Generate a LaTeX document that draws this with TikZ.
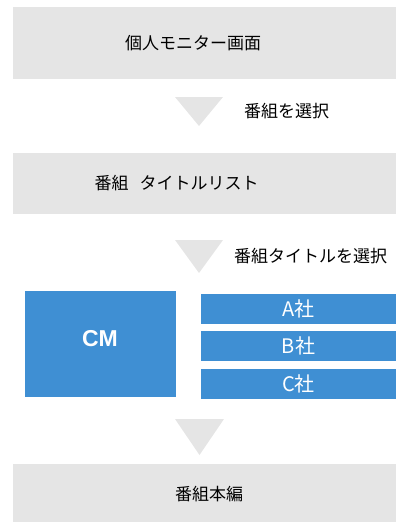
\documentclass[tikz,border=0pt]{standalone}
\usepackage{fontspec}
\setmainfont{Noto Sans CJK JP}
\newfontfamily\cmfont{Liberation Sans}
\definecolor{boxgray}{HTML}{E5E5E5}
\definecolor{boxblue}{HTML}{3F8FD3}
\begin{document}
\begin{tikzpicture}[x=1pt,y=-1pt,
  graybox/.style={fill=boxgray},
  bluebox/.style={fill=boxblue},
  lbl/.style={font=\fontsize{17}{19}\selectfont, text=black, inner sep=0pt},
  wlbl/.style={font=\fontsize{20}{22}\selectfont, text=white, inner sep=0pt},
  tri/.style={fill=boxgray}]
\useasboundingbox (0,0) rectangle (396,522);
% gray boxes
\fill[graybox] (13,7) rectangle (396,79);
\fill[graybox] (13,153) rectangle (396,214);
\fill[graybox] (13,464) rectangle (396,522);
% blue boxes
\fill[bluebox] (25,291) rectangle (176,397);
\fill[bluebox] (201,294) rectangle (396,324);
\fill[bluebox] (201,331) rectangle (396,361);
\fill[bluebox] (201,369) rectangle (396,399);
% triangles
\fill[tri] (175,97) -- (223,97) -- (199,126) -- cycle;
\fill[tri] (175,240) -- (223,240) -- (199,273) -- cycle;
\fill[tri] (175,419) -- (224,419) -- (199.5,455) -- cycle;
% texts
\node[lbl] (t1) at (193,43) {個人モニター画面};
\node[lbl] (s1) at (286.5,111) {番組を選択};
\node[lbl] (t2) at (176.5,183.5) {番組\hspace{11pt}タイトルリスト};
\node[lbl] (s2) at (310.5,256) {番組タイトルを選択};
\node[font=\cmfont\bfseries\fontsize{23}{25}\selectfont, text=white, inner sep=0pt] (cm) at (100,339) {CM};
\node[wlbl] (a) at (298.5,309) {A社};
\node[wlbl] (b) at (298.5,346) {B社};
\node[wlbl] (c) at (298.5,384) {C社};
\node[lbl] (t4) at (209,494) {番組本編};
\end{tikzpicture}
\end{document}
